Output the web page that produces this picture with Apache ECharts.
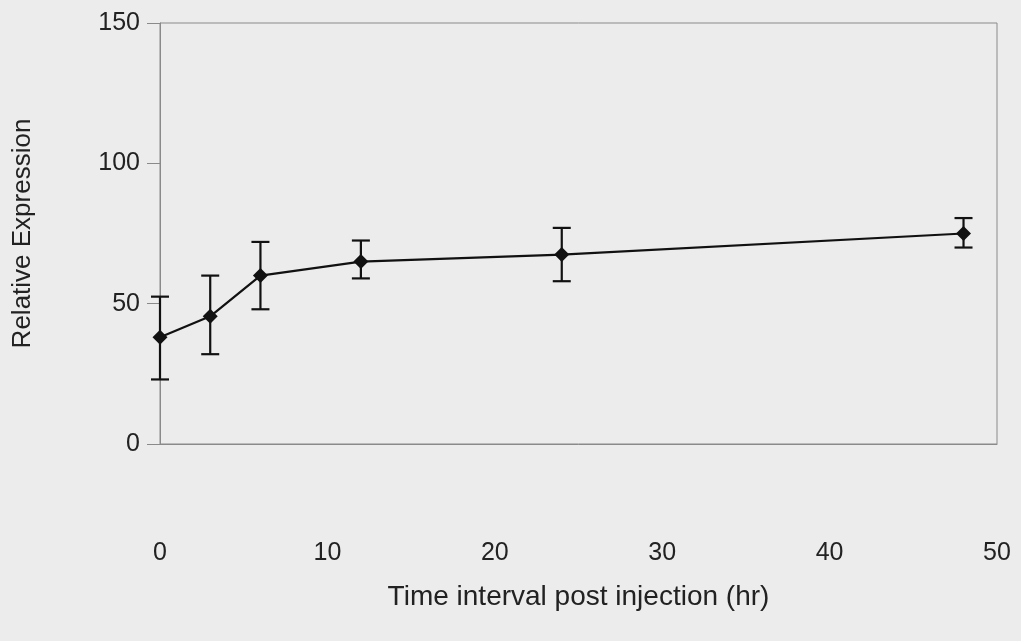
<!DOCTYPE html>
<html>
<head>
<meta charset="utf-8">
<script src="https://cdn.jsdelivr.net/npm/echarts@6/dist/echarts.min.js"></script>
<style>
  html, body { margin: 0; padding: 0; background: #ececec; }
  #chart { width: 1021px; height: 641px; }
</style>
</head>
<body>
<div id="chart"></div>
<script>
// hours after injection
const hours = [0, 3, 6, 12, 24, 48];
// mean relative expression
const means = [38, 45.5, 60, 65, 67.5, 75];
// error bar ends
const lows = [23, 32, 48, 59, 58, 70];
const highs = [52.5, 60, 72, 72.5, 77, 80.5];

const lineData = hours.map((h, i) => [h, means[i]]);
const errData = hours.map((h, i) => [h, lows[i], highs[i]]);

const chart = echarts.init(document.getElementById("chart"));

chart.setOption({
  backgroundColor: "#ececec",
  animation: false,
  grid: {
    left: 160,
    right: 24,
    top: 23,
    bottom: 197,
    show: true,
    borderColor: "#8a8a8a",
    borderWidth: 1,
  },
  xAxis: {
    type: "value",
    min: 0,
    max: 50,
    interval: 10,
    name: "Time interval post injection (hr)",
    nameLocation: "middle",
    nameGap: 139,
    nameTextStyle: { fontFamily: "Liberation Sans", fontSize: 28, color: "#222" },
    axisLine: { show: true, lineStyle: { color: "#8a8a8a", width: 1 } },
    axisTick: { show: false },
    splitLine: { show: false },
    axisLabel: {
      margin: 97,
      fontFamily: "Liberation Sans",
      fontSize: 25,
      color: "#222",
    },
  },
  yAxis: {
    type: "value",
    min: 0,
    max: 150,
    interval: 50,
    name: "Relative Expression",
    nameLocation: "middle",
    nameGap: 124,
    nameTextStyle: { fontFamily: "Liberation Sans", fontSize: 26, color: "#222" },
    axisLine: { show: true, lineStyle: { color: "#8a8a8a", width: 1 } },
    axisTick: { show: true, length: 13, lineStyle: { color: "#8a8a8a" } },
    splitLine: { show: false },
    axisLabel: {
      margin: 20,
      fontFamily: "Liberation Sans",
      fontSize: 25,
      color: "#222",
    },
  },
  series: [
    {
      type: "line",
      data: lineData,
      symbol: "diamond",
      symbolSize: 15,
      lineStyle: { color: "#111", width: 2.2 },
      itemStyle: { color: "#111" },
      z: 3,
    },
    {
      type: "custom",
      data: errData,
      renderItem: function (params, api) {
        const x = api.value(0);
        const lo = api.coord([x, api.value(1)]);
        const hi = api.coord([x, api.value(2)]);
        const cap = 9;
        const style = { stroke: "#111", lineWidth: 2.2 };
        return {
          type: "group",
          children: [
            { type: "line", shape: { x1: lo[0], y1: lo[1], x2: hi[0], y2: hi[1] }, style: style },
            { type: "line", shape: { x1: lo[0] - cap, y1: lo[1], x2: lo[0] + cap, y2: lo[1] }, style: style },
            { type: "line", shape: { x1: hi[0] - cap, y1: hi[1], x2: hi[0] + cap, y2: hi[1] }, style: style },
          ],
        };
      },
      z: 2,
    },
  ],
});
</script>
</body>
</html>
